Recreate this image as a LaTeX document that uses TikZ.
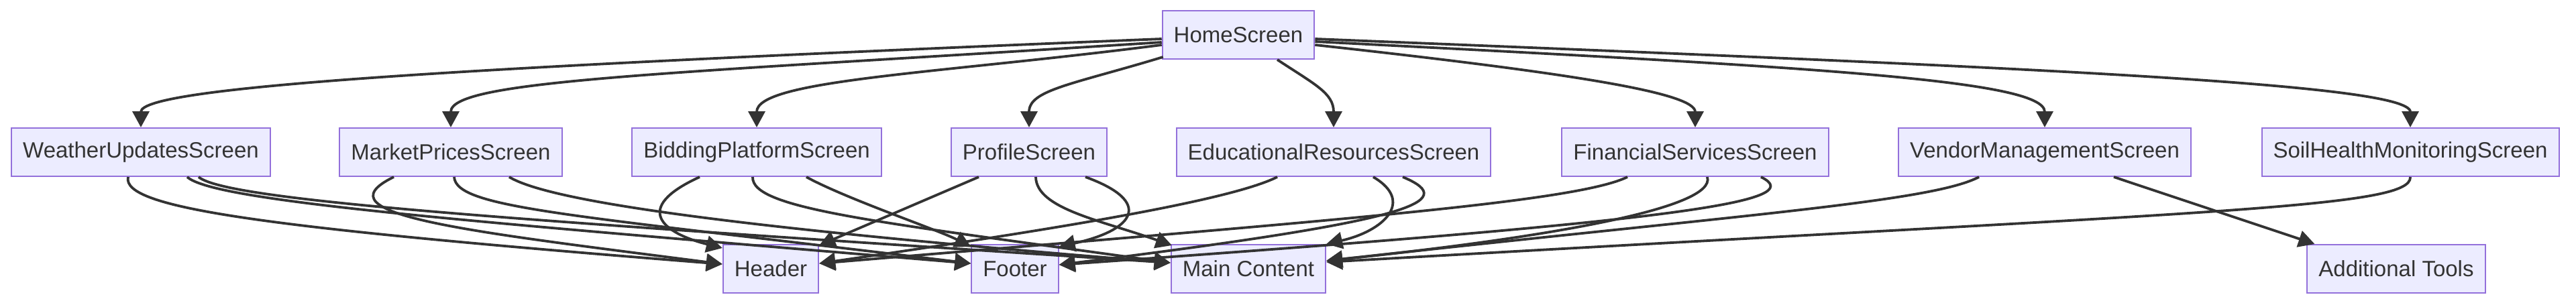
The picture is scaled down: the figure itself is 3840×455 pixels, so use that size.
\documentclass[tikz,border=0pt]{standalone}
\usepackage{fontspec}
\setmainfont{Liberation Sans}
\usetikzlibrary{arrows.meta, positioning, calc}
\definecolor{boxfill}{HTML}{ECECFF}
\definecolor{boxline}{HTML}{9370DB}
\definecolor{edgecol}{HTML}{333333}

\begin{document}
\begin{tikzpicture}[
    x=0.5pt, y=-0.5pt,
    screen/.style={rectangle, draw=boxline, fill=boxfill, line width=1pt,
        minimum height=36pt, inner xsep=8.5pt, inner ysep=0pt,
        text=edgecol, font=\fontsize{16.5pt}{20pt}\selectfont},
    link/.style={draw=edgecol, line width=1.9pt,
        -{Triangle[length=12pt, width=12.5pt]}}
]
    \useasboundingbox (0,0) rectangle (3840,455);

    % top
    \node[screen] (home) at (1846,52) {HomeScreen};

    % screens
    \node[screen] (weather) at (210,227)  {WeatherUpdatesScreen};
    \node[screen] (market)  at (672,227)  {MarketPricesScreen};
    \node[screen] (bidding) at (1128,227) {BiddingPlatformScreen};
    \node[screen] (profile) at (1534,227) {ProfileScreen};
    \node[screen] (edu)     at (1988,227) {EducationalResourcesScreen};
    \node[screen] (fin)     at (2527,227) {FinancialServicesScreen};
    \node[screen] (vendor)  at (3048,227) {VendorManagementScreen};
    \node[screen] (soil)    at (3593,227) {SoilHealthMonitoringScreen};

    % components
    \node[screen] (header) at (1149,401) {Header};
    \node[screen] (footer) at (1513,401) {Footer};
    \node[screen] (main)   at (1861,401) {Main Content};
    \node[screen] (tools)  at (3572,401) {Additional Tools};

    % HomeScreen -> screens
    \draw[link] ($(home.west)+(0,6)$) .. controls +(-1033,42) and +(0,-61) .. (weather.north);
    \draw[link] ($(home.west)+(0,11)$) .. controls +(-733,47) and +(0,-71) .. (market.north);
    \draw[link] ($(home.west)+(0,15)$) .. controls +(-333,43) and +(0,-71) .. (bidding.north);
    \draw[link] ($(home.south west)+(2,-4)$) .. controls +(-135,41) and +(0,-56) .. (profile.north);
    \draw[link] ($(home.south)+(58,0)$) .. controls +(56,37) and +(0,-51) .. (edu.north);
    \draw[link] ($(home.east)+(0,15)$) .. controls +(391,43) and +(0,-51) .. (fin.north);
    \draw[link] ($(home.east)+(0,10)$) .. controls +(741,38) and +(0,-71) .. (vendor.north);
    \draw[link] ($(home.east)+(0,6)$) .. controls +(1041,42) and +(0,-66) .. (soil.north);

    % WeatherUpdatesScreen
    \draw[link] ($(weather.south)+(-19,0)$) .. controls +(-11,47) and +(-678,-54) .. ($(header.west)+(0,-7)$);
    \draw[link] ($(weather.south)+(69,0)$) .. controls +(41,37) and +(-749,-63) .. ($(footer.west)+(0,-8)$);
    \draw[link] ($(weather.south)+(86,0)$) .. controls +(44,37) and +(-946,-62) .. ($(main.west)+(0,-9)$);

    % MarketPricesScreen
    \draw[link] ($(market.south)+(-85,0)$) .. controls +(-117,57) and +(-378,-49) .. ($(header.west)+(0,-7)$);
    \draw[link] ($(market.south)+(5,0)$) .. controls +(3,47) and +(-599,-73) .. ($(footer.west)+(0,-8)$);
    \draw[link] ($(market.south)+(87,0)$) .. controls +(61,37) and +(-646,-52) .. ($(main.west)+(0,-9)$);

    % BiddingPlatformScreen
    \draw[link] ($(bidding.south)+(-85,0)$) .. controls +(-103,47) and +(-88,-22) .. ($(header.north west)+(0,6)$);
    \draw[link] ($(bidding.south)+(-6,0)$) .. controls +(-2,47) and +(-446,-62) .. ($(main.west)+(0,-9)$);
    \draw[link] ($(bidding.south)+(74,0)$) .. controls +(58,32) and +(-49,-25) .. ($(footer.north west)+(0,4)$);

    % ProfileScreen
    \draw[link] ($(profile.south)+(-75,0)$) -- ($(header.north east)+(0,2)$);
    \draw[link] ($(profile.south)+(10,0)$) .. controls +(1,47) and +(-108,-38) .. ($(main.north west)+(2,2)$);
    \draw[link] ($(profile.south)+(84,0)$) .. controls +(102,37) and +(113,-25) .. ($(footer.north east)+(0,4)$);

    % EducationalResourcesScreen
    \draw[link] ($(edu.south)+(-84,0)$) .. controls +(-74,37) and +(330,-48) .. ($(header.east)+(0,-8)$);
    \draw[link] ($(edu.south)+(59,0)$) .. controls +(63,37) and +(84,-19) .. (main.north east);
    \draw[link] ($(edu.south)+(103,0)$) .. controls +(89,37) and +(523,-65) .. ($(footer.east)+(0,-6)$);

    % FinancialServicesScreen
    \draw[link] ($(fin.south)+(-101,0)$) .. controls +(-76,37) and +(780,-65) .. ($(header.east)+(0,-8)$);
    \draw[link] ($(fin.south)+(18,0)$) .. controls +(15,47) and +(324,-34) .. ($(main.east)+(0,-12)$);
    \draw[link] ($(fin.south)+(98,0)$) .. controls +(75,37) and +(923,-65) .. ($(footer.east)+(0,-6)$);

    % VendorManagementScreen
    \draw[link] ($(vendor.south)+(-98,0)$) .. controls +(-70,37) and +(624,-69) .. ($(main.east)+(0,-12)$);
    \draw[link] ($(vendor.south)+(103,0)$) -- ($(tools.north west)+(12,0)$);

    % SoilHealthMonitoringScreen
    \draw[link] (soil.south) .. controls +(2,47) and +(1324,-76) .. ($(main.east)+(0,-10)$);
\end{tikzpicture}
\end{document}
